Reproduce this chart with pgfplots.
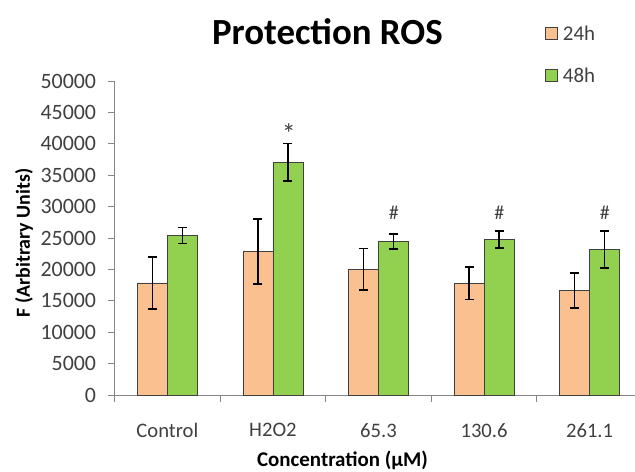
\documentclass[border=0pt]{standalone}
\usepackage{fontspec}
\setmainfont{Carlito}
\usepackage{pgfplots}
\pgfplotsset{compat=1.18}
\usepackage{pgfplotstable}
\definecolor{orng}{HTML}{FAC090}
\definecolor{grn}{HTML}{92D050}
\definecolor{axgray}{HTML}{868686}
\definecolor{txtgray}{HTML}{404040}
\definecolor{edge}{HTML}{404040}

\pgfplotstableread{
x y err
0 17850 4150
1 22850 5150
2 20050 3300
3 17800 2620
4 16650 2760
}\tablea
\pgfplotstableread{
x y err
0 25400 1300
1 37050 3000
2 24450 1170
3 24750 1370
4 23150 2950
}\tableb

\begin{document}
\begin{tikzpicture}
\begin{axis}[
  name=ax,
  scale only axis, width=520.4bp, height=314bp,
  xmin=-0.5, xmax=4.43, ymin=0, ymax=50000,
  ybar=0pt, bar width=30bp,
  axis x line*=bottom, axis y line*=left,
  axis line style={axgray, line width=1bp, -},
  tick align=outside,
  major tick length=7bp, minor tick length=7bp,
  ytick={0,5000,...,50000},
  scaled y ticks=false,
  /pgf/number format/1000 sep={},
  /pgf/number format/assume math mode=true,
  y tick style={axgray, line width=1bp},
  xtick={0,1,2,3,4},
  xticklabels={Control,H2O2,65.3,130.6,261.1},
  minor xtick={-0.5,0.5,1.5,2.5,3.5},
  major x tick style={draw=none},
  minor x tick style={axgray, line width=1bp},
  yticklabel style={font=\fontsize{22}{26}\selectfont, text=txtgray, xshift=-8bp},
  xticklabel style={font=\fontsize{20.7}{24}\selectfont, text=txtgray, yshift=-18bp},
  title={Protection ROS},
  title style={font=\fontsize{37}{42}\selectfont\bfseries, at={(0.409,1.097)}, anchor=base},
  xlabel={Concentration (µM)},
  xlabel style={font=\fontsize{21}{24}\selectfont\bfseries, at={(0.438,-0.228)}, anchor=base},
  ylabel={F (Arbitrary Units)},
  ylabel style={font=\fontsize{20}{24}\selectfont\bfseries, at={(-0.1626,0.484)}, anchor=base},
  legend style={at={(0.827,1.183)}, anchor=north west, draw=none, fill=none,
    font=\fontsize{21}{24}\selectfont, text=txtgray, row sep=22bp, inner sep=0pt,
    nodes={inner xsep=5bp}},
  legend cell align=left,
  legend image code/.code={\draw[#1] (0bp,-6bp) rectangle (12bp,6bp);},
  error bars/error bar style={black, line width=1.6bp},
  error bars/error mark options={black, rotate=90, mark size=4.5bp, line width=1.6bp},
]
\addplot[fill=orng, draw=edge, line width=0.8bp,
  error bars/.cd, y dir=both, y explicit]
  table[x=x, y=y, y error=err] {\tablea};
\addlegendentry{24h}
\addplot[fill=grn, draw=edge, line width=0.8bp,
  error bars/.cd, y dir=both, y explicit]
  table[x=x, y=y, y error=err] {\tableb};
\addlegendentry{48h}
\node[font=\fontsize{28}{30}\selectfont, text=txtgray, anchor=base] at (axis cs:1.15,40000) {*};
\node[font=\fontsize{20}{24}\selectfont, text=txtgray, anchor=base] at (axis cs:2.145,28025) {\#};
\node[font=\fontsize{20}{24}\selectfont, text=txtgray, anchor=base] at (axis cs:3.145,28025) {\#};
\node[font=\fontsize{20}{24}\selectfont, text=txtgray, anchor=base] at (axis cs:4.145,28025) {\#};
\end{axis}
\pgfresetboundingbox
\path[use as bounding box] ([shift={(-114.6bp,-77bp)}]ax.south west) rectangle ([shift={(520.4bp,395bp)}]ax.south west);
\end{tikzpicture}
\end{document}
